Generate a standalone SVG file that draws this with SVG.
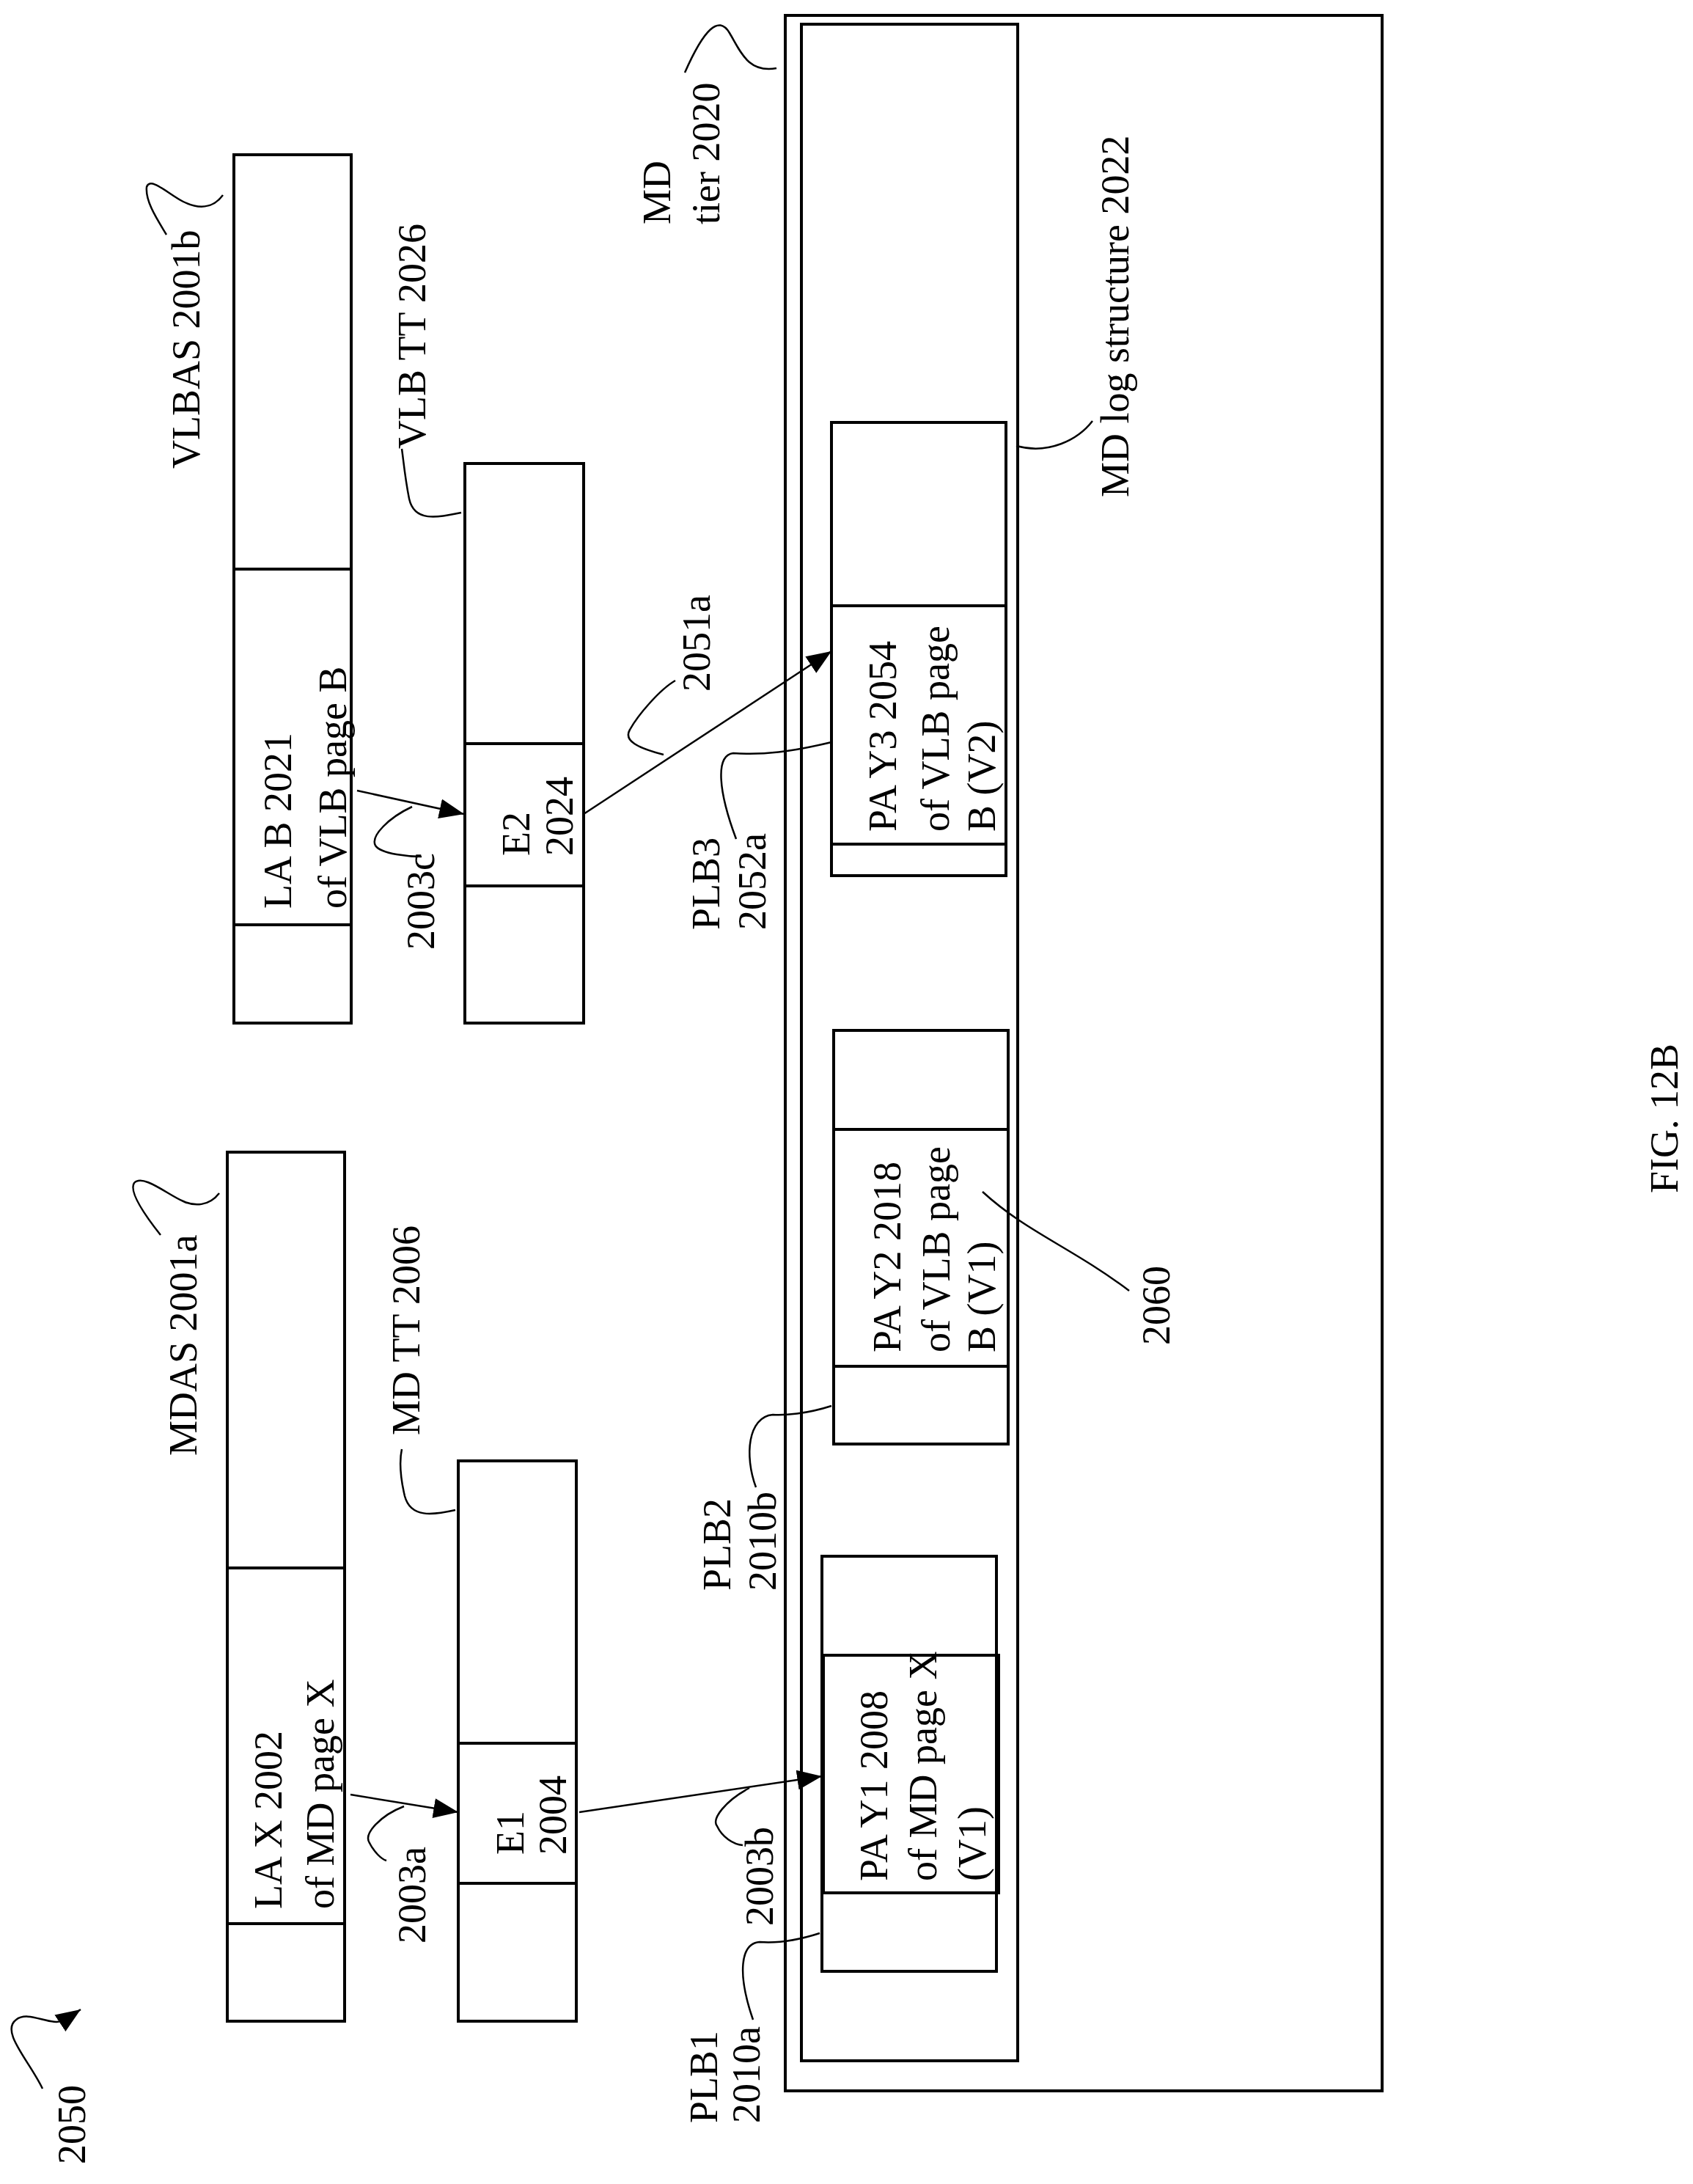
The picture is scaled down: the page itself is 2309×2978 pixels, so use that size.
<svg xmlns="http://www.w3.org/2000/svg" width="2309" height="2978" viewBox="0 0 2309 2978">
<style>
rect{fill:none;stroke:#000;stroke-width:4}
.d{stroke:#000;stroke-width:4;fill:none}
.c{stroke:#000;stroke-width:2.5;fill:none}
text{font-family:"Liberation Serif","Times New Roman",serif;font-size:54px;dominant-baseline:central;fill:#000}
</style>
<defs>
<marker id="b" viewBox="0 0 10 8" refX="10" refY="4" markerWidth="34" markerHeight="27" orient="auto" markerUnits="userSpaceOnUse"><path d="M0,0L10,4L0,8z" fill="#000"/></marker></defs>
<g id="fig"><text transform="translate(98,2951) rotate(-90)">2050</text><path class="c" d="M58,2848C40,2810 0,2770 22,2754C40,2740 70,2765 89,2754L110,2740" marker-end="url(#b)"/>
<text transform="translate(2270,1525) rotate(-90)" text-anchor="middle" font-size="70">FIG. 12B</text></g>
<g id="mdtier"><rect x="1071" y="21" width="814" height="2830"/><text transform="translate(896,306) rotate(-90)">MD</text><text transform="translate(963,306) rotate(-90)">tier 2020</text><path class="c" d="M1059,93C1020,100 1010,70 995,45C980,20 960,40 934,99"/></g>
<g id="mdlog"><rect x="1093" y="33" width="295" height="2777"/><text transform="translate(1521,678) rotate(-90)">MD log structure 2022</text><path class="c" d="M1386,608C1430,620 1470,600 1490,574"/></g>
<g id="mdas"><rect x="310" y="1571" width="160" height="1185"/><path class="d" d="M310,2138H470M310,2623H470"/>
<text transform="translate(366,2603) rotate(-90)">LA X 2002</text><text transform="translate(437,2603) rotate(-90)">of MD page X</text>
<text transform="translate(250,1985) rotate(-90)">MDAS 2001a</text><path class="c" d="M299,1627C285,1645 265,1645 250,1638C230,1630 195,1600 183,1613C175,1625 200,1660 219,1684"/></g>
<g id="mdtt"><rect x="625" y="1992" width="161" height="764"/><path class="d" d="M625,2377H786M625,2568H786"/>
<text transform="translate(696,2529) rotate(-90)">E1</text><text transform="translate(754,2529) rotate(-90)">2004</text>
<text transform="translate(554,1957) rotate(-90)">MD TT 2006</text><path class="c" d="M621,2059C590,2066 560,2070 552,2040C545,2010 545,1990 548,1976"/></g>
<g id="vlbas"><rect x="319" y="211" width="160" height="1184"/><path class="d" d="M319,776H479M319,1261H479"/>
<text transform="translate(379,1239) rotate(-90)">LA B 2021</text><text transform="translate(454,1239) rotate(-90)">of VLB page B</text>
<text transform="translate(254,639) rotate(-90)">VLBAS 2001b</text><path class="c" d="M304,266C290,285 270,285 250,275C230,265 205,240 200,255C198,275 215,300 227,320"/></g>
<g id="vlbtt"><rect x="634" y="632" width="162" height="763"/><path class="d" d="M634,1014H796M634,1208H796"/>
<text transform="translate(704,1167) rotate(-90)">E2</text><text transform="translate(763,1167) rotate(-90)">2024</text>
<text transform="translate(562,612) rotate(-90)">VLB TT 2026</text><path class="c" d="M629,699C595,706 565,712 558,680C552,650 550,625 548,612"/></g>
<g id="plb1"><rect x="1121" y="2122" width="238" height="566"/><rect x="1123" y="2257" width="239" height="324"/>
<text transform="translate(1192,2565) rotate(-90)">PA Y1 2008</text><text transform="translate(1259,2565) rotate(-90)">of MD page X</text><text transform="translate(1326,2565) rotate(-90)">(V1)</text>
<text transform="translate(960,2895) rotate(-90)">PLB1</text><text transform="translate(1018,2895) rotate(-90)">2010a</text><path class="c" d="M1118,2636C1090,2645 1060,2650 1036,2648C1010,2650 1005,2690 1027,2754"/></g>
<g id="plb2"><rect x="1137" y="1405" width="238" height="564"/><path class="d" d="M1137,1540H1375M1137,1863H1375"/>
<text transform="translate(1210,1844) rotate(-90)">PA Y2 2018</text><text transform="translate(1277,1844) rotate(-90)">of VLB page</text><text transform="translate(1339,1844) rotate(-90)">B (V1)</text>
<text transform="translate(1577,1834) rotate(-90)">2060</text><path class="c" d="M1340,1625C1400,1680 1460,1700 1540,1760"/>
<text transform="translate(978,2169) rotate(-90)">PLB2</text><text transform="translate(1040,2169) rotate(-90)">2010b</text><path class="c" d="M1134,1917C1100,1928 1070,1930 1054,1929C1020,1932 1015,1985 1031,2028"/></g>
<g id="plb3"><rect x="1134" y="576" width="238" height="618"/><path class="d" d="M1134,826H1372M1134,1151H1372"/>
<text transform="translate(1204,1134) rotate(-90)">PA Y3 2054</text><text transform="translate(1276,1134) rotate(-90)">of VLB page</text><text transform="translate(1339,1134) rotate(-90)">B (V2)</text>
<text transform="translate(963,1268) rotate(-90)">PLB3</text><text transform="translate(1026,1268) rotate(-90)">2052a</text><path class="c" d="M1134,1012C1080,1025 1040,1030 1000,1027C975,1030 980,1080 1004,1144"/></g>
<g id="connectors">
<path class="c" d="M478,2447L625,2471" marker-end="url(#b)"/>
<path class="c" d="M790,2471L1121,2422" marker-end="url(#b)"/>
<path class="c" d="M487,1078L633,1110" marker-end="url(#b)"/>
<path class="c" d="M796,1110L1134,888" marker-end="url(#b)"/>
<text transform="translate(562,2650) rotate(-90)">2003a</text><path class="c" d="M551,2463C520,2475 495,2500 504,2513C510,2525 520,2535 527,2537"/>
<text transform="translate(1036,2626) rotate(-90)">2003b</text><path class="c" d="M1022,2438C990,2455 970,2480 978,2490C985,2505 1000,2515 1013,2516"/>
<text transform="translate(574,1295) rotate(-90)">2003c</text><path class="c" d="M562,1100C530,1115 505,1140 512,1153C520,1165 560,1168 575,1168"/>
<text transform="translate(950,943) rotate(-90)">2051a</text><path class="c" d="M905,1029C870,1020 850,1010 859,995C870,975 900,940 921,928"/>
</g>
</svg>
